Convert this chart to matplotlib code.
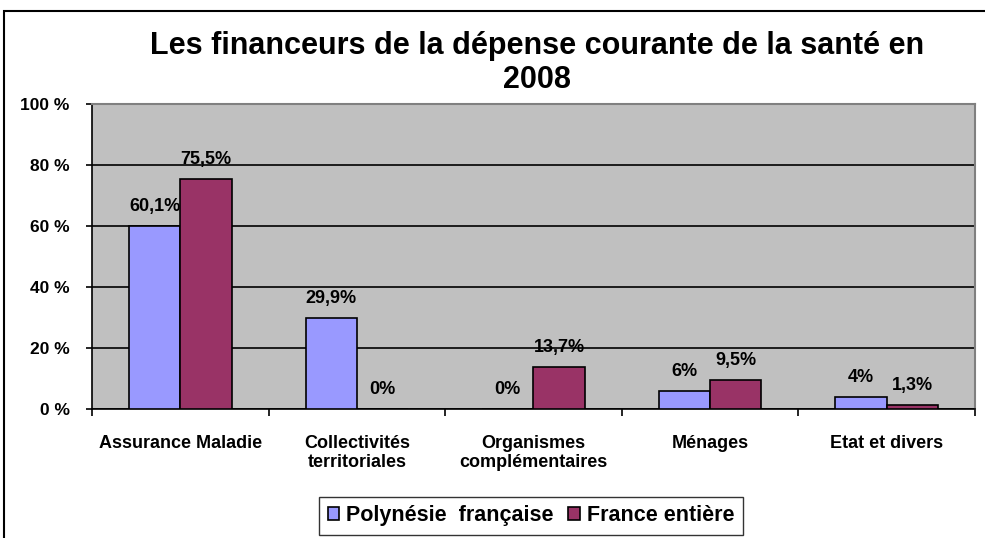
import matplotlib.pyplot as plt
import numpy as np
from matplotlib.patches import Rectangle

plt.rcParams['font.family'] = ['Liberation Sans', 'DejaVu Sans']
plt.rcParams['font.weight'] = 'bold'

categories = ["Assurance Maladie", "Collectivités\nterritoriales", "Organismes\ncomplémentaires",
              "Ménages", "Etat et divers"]
polynesie = [60.1, 29.9, 0, 6, 4]
france = [75.5, 0, 13.7, 9.5, 1.3]
labels_polynesie = ["60,1%", "29,9%", "0%", "6%", "4%"]
labels_france = ["75,5%", "0%", "13,7%", "9,5%", "1,3%"]
yticks = [0, 20, 40, 60, 80, 100]
ytick_labels = ["0 %", "20 %", "40 %", "60 %", "80 %", "100 %"]

fig = plt.figure(figsize=(9.85, 5.38), dpi=100)
ax = fig.add_axes([0.0934, 0.2398, 0.8964, 0.5669])
ax.set_facecolor('#C0C0C0')

x = np.arange(len(categories))
w = 0.29
b1 = ax.bar(x - w / 2, polynesie, w, color='#9999FF', edgecolor='black', linewidth=1.2,
            label='Polynésie  française', zorder=3)
b2 = ax.bar(x + w / 2, france, w, color='#993366', edgecolor='black', linewidth=1.2,
            label='France entière', zorder=3)

for rect, lab in zip(b1, labels_polynesie):
    ax.annotate(lab, (rect.get_x() + rect.get_width() / 2, rect.get_height()),
                xytext=(0, 14), textcoords='offset points', ha='center', va='center',
                fontsize=13, fontweight='bold', zorder=4)
for rect, lab in zip(b2, labels_france):
    ax.annotate(lab, (rect.get_x() + rect.get_width() / 2, rect.get_height()),
                xytext=(0, 14), textcoords='offset points', ha='center', va='center',
                fontsize=13, fontweight='bold', zorder=4)

ax.set_ylim(0, 100)
ax.set_xlim(-0.5, len(categories) - 0.5)
ax.set_yticks(yticks)
ax.set_yticklabels(ytick_labels, fontsize=12.5, fontweight='bold')
ax.yaxis.grid(True, color='black', linewidth=1.2, zorder=1)
ax.set_axisbelow(True)
ax.tick_params(axis='y', length=4, width=1.2, pad=12)

ax.set_xticks(x)
ax.set_xticklabels(categories, fontsize=13, fontweight='bold', va='top', linespacing=1.1)
ax.tick_params(axis='x', length=0, pad=19)
ax.set_xticks(np.arange(-0.5, len(categories)), minor=True)
ax.tick_params(axis='x', which='minor', length=5, width=1.2)

for s in ['top', 'right']:
    ax.spines[s].set_color('#808080')
    ax.spines[s].set_linewidth(1.5)
for s in ['left', 'bottom']:
    ax.spines[s].set_color('black')
    ax.spines[s].set_linewidth(1.2)

fig.text(0.545, 0.883, "Les financeurs de la dépense courante de la santé en\n2008",
         ha='center', va='center', fontsize=22, fontweight='bold', linespacing=1.15)

leg = fig.legend(loc='center', bbox_to_anchor=(0.539, 0.041), ncol=2, frameon=True,
                 fancybox=False, edgecolor='black', fontsize=15.5, handlelength=0.55,
                 handleheight=0.55, handletextpad=0.3, columnspacing=0.7, borderpad=0.4)
leg.get_frame().set_linewidth(1.0)

fig.patches.append(Rectangle((0.004, -0.05), 1.1, 0.9796 + 0.05, transform=fig.transFigure,
                             fill=False, edgecolor='black', linewidth=1.5))

fig.savefig('out.png', dpi=100)
